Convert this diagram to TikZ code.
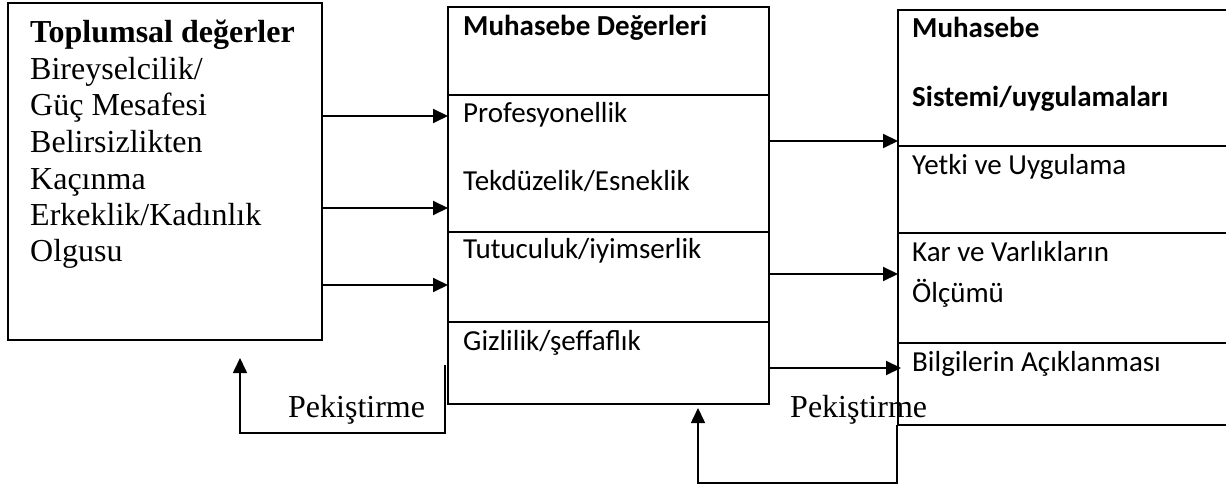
\documentclass[tikz,border=0pt]{standalone}
\usepackage{fontspec}
\setmainfont{Liberation Serif}
\newfontfamily\calibri{Carlito}
\usepackage{tikz}
\usetikzlibrary{arrows.meta}
\tikzstyle{cellbox} = [rectangle, draw=black, line width=2pt, anchor=north west,
inner sep=0pt, outer sep=0pt]
\tikzstyle{midcell} = [cellbox, minimum width=321pt]
\tikzstyle{rightcell} = [cellbox, minimum width=340pt]
\tikzstyle{serif} = [anchor=base west, inner sep=0pt, align=left,
font=\fontsize{32}{36.5}\selectfont]
\tikzstyle{sans} = [anchor=base west, inner sep=0pt, align=left,
font=\calibri\fontsize{29}{35}\selectfont]
\tikzstyle{arrow} = [line width=2pt, -{Triangle[length=15pt,width=14pt]}]
\tikzstyle{feedback} = [line width=1.6pt, -{Triangle[length=15pt,width=14pt]}]

\begin{document}
\begin{tikzpicture}[x=1pt, y=-1pt]
\useasboundingbox (0,0) rectangle (1226,486);

\node(toplum)[cellbox, minimum width=314pt, minimum height=337pt] at (8,3) {};
% base of the last line (Olgusu)
\node(toplumtext)[serif] at (30,262) {\textbf{Toplumsal değerler}\\Bireyselcilik/\\Güç Mesafesi\\Belirsizlikten\\Kaçınma\\Erkeklik/Kadınlık\\Olgusu};

\node(deg1)[midcell, minimum height=88pt] at (448,7) {};
\node(deg2)[midcell, minimum height=137pt] at (deg1.south west) {};
\node(deg3)[midcell, minimum height=90pt] at (deg2.south west) {};
\node(deg4)[midcell, minimum height=82pt] at (deg3.south west) {};
\node(degtitle)[sans] at (463,36) {\textbf{Muhasebe Değerleri}};
\node(prof)[sans] at (463,123) {Profesyonellik};
\node(tekduze)[sans] at (463,191) {Tekdüzelik/Esneklik};
\node(tutucu)[sans] at (463,259) {Tutuculuk/iyimserlik};
\node(gizli)[sans] at (463,350) {Gizlilik/şeffaflık};

\node(sis1)[rightcell, minimum height=136pt] at (898,10) {};
\node(sis2)[rightcell, minimum height=87pt] at (sis1.south west) {};
\node(sis3)[rightcell, minimum height=110pt] at (sis2.south west) {};
\node(sis4)[rightcell, minimum height=82pt] at (sis3.south west) {};
\node(sistitle1)[sans] at (912,38) {\textbf{Muhasebe}};
\node(sistitle2)[sans] at (912,107) {\textbf{Sistemi/uygulamaları}};
\node(yetki)[sans] at (912,175) {Yetki ve Uygulama};
\node(kar)[sans] at (912,262) {Kar ve Varlıkların};
\node(olcum)[sans] at (912,302) {Ölçümü};
\node(bilgi)[sans] at (912,371) {Bilgilerin Açıklanması};

\draw[arrow](toplum.east |- 0,116) -- (deg2.west |- 0,116);
\draw[arrow](toplum.east |- 0,208) -- (deg2.west |- 0,208);
\draw[arrow](toplum.east |- 0,285) -- (deg3.west |- 0,285);
\draw[arrow](deg2.east |- 0,141) -- (sis1.west |- 0,141);
\draw[arrow](deg3.east |- 0,274) -- (sis3.west |- 0,274);
\draw[arrow](deg4.east |- 0,368) -- ([xshift=3pt]sis4.west |- 0,368);

\coordinate(fb1corner) at (240,433);
\draw[feedback]([xshift=-3pt, yshift=39pt]deg4.south west) |- (fb1corner) --
([yshift=-18pt]toplum.south -| fb1corner);
\node(pek1)[serif] at (288,417) {Pekiştirme};

\coordinate(fb2corner) at (698,483);
\draw[feedback]([xshift=-1pt]sis4.south west) |- (fb2corner) --
([yshift=-4pt]deg4.south -| fb2corner);
\node(pek2)[serif] at (790,417) {Pekiştirme};

\end{tikzpicture}
\end{document}
